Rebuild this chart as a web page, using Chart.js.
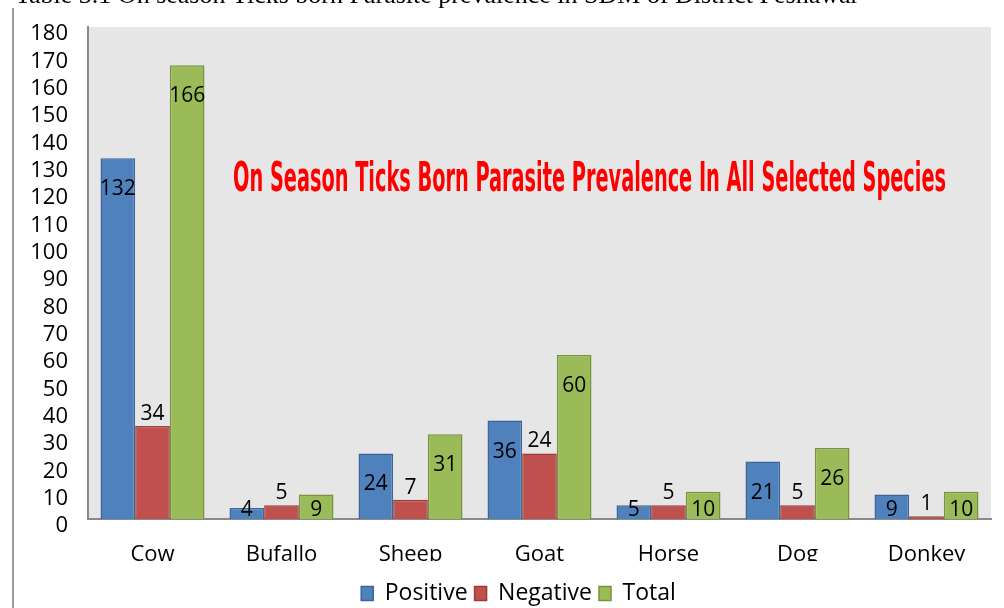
<!DOCTYPE html>
<html>
<head>
<meta charset="utf-8">
<title>Ticks Born Parasite Prevalence</title>
<script src="https://cdn.jsdelivr.net/npm/chart.js"></script>
<style>
	html, body { margin: 0; padding: 0; background: #fff; }
	#wrap { width: 1004px; height: 608px; position: relative; overflow: hidden; }
</style>
</head>
<body>
<div id="wrap"><canvas id="species" width="1004" height="608"></canvas></div>
<script>

var species = ["Cow", "Bufallo", "Sheep", "Goat", "Horse", "Dog", "Donkey"];
var positive = [132, 4, 24, 36, 5, 21, 9];
var negative = [34, 5, 7, 24, 5, 5, 1];
var total = [166, 9, 31, 60, 10, 26, 10];
var yTicks = [0, 10, 20, 30, 40, 50, 60, 70, 80, 90, 100, 110, 120, 130, 140, 150, 160, 170, 180];

var caption = "Table 3.1 On season Ticks born Parasite prevalence in SDM of District Peshawar";
var heading = "On Season Ticks Born Parasite Prevalence In All Selected Species";

var sans = "'Open Sans', 'DejaVu Sans', sans-serif";

// grey plot area, caption, frame line and the red heading
var decor = {
	id: "decor",
	afterLayout: function(chart) {
		// legend sits a little right of centre in the source
		chart.legend.left += 23;
		chart.legend.right += 23;
	},
	beforeDraw: function(chart) {
		var ctx = chart.ctx, a = chart.chartArea;
		ctx.save();
		ctx.fillStyle = "#e6e6e6";
		ctx.fillRect(a.left, a.top, a.right - a.left, a.bottom - a.top);
		ctx.restore();
	},
	afterDraw: function(chart) {
		var ctx = chart.ctx;
		ctx.save();
		// x labels are cut at the bottom in the source
		ctx.fillStyle = "#fff";
		ctx.fillRect(14, 561, 990, 14);

		ctx.strokeStyle = "#9a9a9a";
		ctx.lineWidth = 2;
		ctx.beginPath();
		ctx.moveTo(13, 8);
		ctx.lineTo(13, 608);
		ctx.stroke();

		ctx.fillStyle = "#000";
		ctx.font = "26px 'Liberation Serif', serif";
		ctx.textAlign = "left";
		ctx.textBaseline = "alphabetic";
		ctx.fillText(caption, 15, 3, 856);

		ctx.fillStyle = "#ff0000";
		ctx.font = "bold 40px 'Liberation Sans Narrow', 'DejaVu Sans Condensed', sans-serif";
		ctx.textAlign = "center";
		ctx.textBaseline = "middle";
		ctx.fillText(heading, 589.5, 181, 713);
		ctx.restore();
	}
};

// value labels: inside the top for Positive/Total, above for Negative
var valueLabels = {
	id: "valueLabels",
	afterDatasetsDraw: function(chart) {
		var ctx = chart.ctx;
		ctx.save();
		ctx.fillStyle = "#000";
		ctx.font = "21px " + sans;
		ctx.textAlign = "center";
		ctx.textBaseline = "middle";
		chart.data.datasets.forEach(function(ds, i) {
			chart.getDatasetMeta(i).data.forEach(function(bar, j) {
				var y;
				if (i == 1) {
					y = bar.y - 12;
				} else {
					y = Math.min(bar.y + 31, bar.base - 9);
				}
				ctx.fillText(String(ds.data[j]), bar.x, y);
			});
		});
		ctx.restore();
	}
};

var ctx = document.getElementById("species").getContext("2d");
var chart = new Chart(ctx, {
	type: "bar",
	data: {
		labels: species,
		datasets: [{
			label: "Positive",
			data: positive,
			backgroundColor: "#4f81bd",
			borderColor: "#3a6596",
			borderWidth: 1.5
		}, {
			label: "Negative",
			data: negative,
			backgroundColor: "#c0504d",
			borderColor: "#9b3b38",
			borderWidth: 1.5
		}, {
			label: "Total",
			data: total,
			backgroundColor: "#9bbb59",
			borderColor: "#76923c",
			borderWidth: 1.5
		}]
	},
	options: {
		responsive: false,
		animation: false,
		devicePixelRatio: 1,
		layout: { padding: { left: 0, right: 13, top: 27, bottom: -7 } },
		datasets: { bar: { categoryPercentage: 0.806, barPercentage: 1 } },
		scales: {
			x: {
				grid: { display: false, drawTicks: false },
				border: { color: "#8a8a8a", width: 2 },
				ticks: { color: "#000", font: { family: sans, size: 22 }, padding: 23, maxRotation: 0 },
				afterFit: function(s) { s.height = 56; s.paddingLeft = 0; s.paddingRight = 0; }
			},
			y: {
				min: 0,
				max: 180,
				grid: { display: false, drawTicks: false },
				border: { color: "#8a8a8a", width: 2 },
				afterBuildTicks: function(s) {
					s.ticks = yTicks.map(function(v) { return { value: v }; });
				},
				ticks: { color: "#000", font: { family: sans, size: 22 }, padding: 20, labelOffset: 7, autoSkip: false },
				afterFit: function(s) { s.width = 88; s.paddingTop = 0; s.paddingBottom = 0; }
			}
		},
		plugins: {
			legend: {
				position: "bottom",
				labels: {
					color: "#000",
					font: { family: sans, size: 23 },
					boxWidth: 12,
					boxHeight: 14,
					padding: 7
				}
			},
			tooltip: { enabled: false }
		}
	},
	plugins: [decor, valueLabels]
});

</script>
</body>
</html>
